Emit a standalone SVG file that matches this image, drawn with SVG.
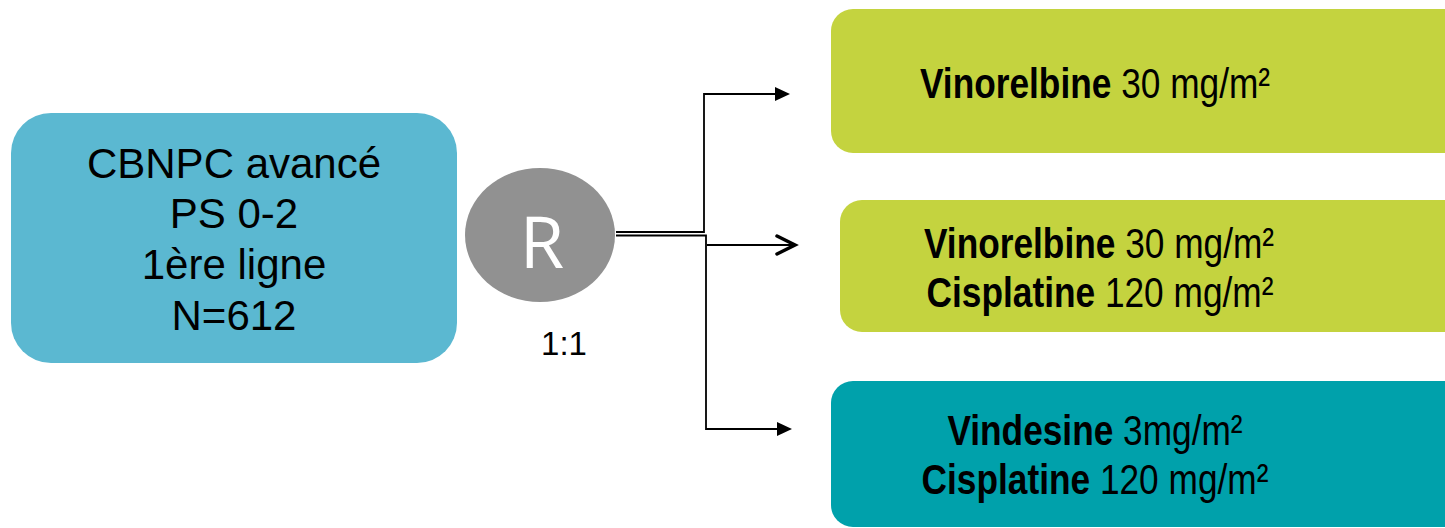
<svg xmlns="http://www.w3.org/2000/svg" width="1445" height="528" viewBox="0 0 1445 528">
<style>
.t{font-family:"Liberation Sans",Arial,sans-serif;font-size:42px;fill:#000}
.b{font-weight:bold}
.ln{fill:none;stroke:#000}
</style>
<rect width="1445" height="528" fill="#fff"/>
<g id="population">
<rect x="11" y="113" width="446" height="250" rx="40" fill="#5BB8D1"/>
<text class="t" text-anchor="middle" x="234" y="178">CBNPC avancé</text>
<text class="t" text-anchor="middle" x="234" y="228">PS 0-2</text>
<text class="t" text-anchor="middle" x="234" y="279">1ère ligne</text>
<text class="t" text-anchor="middle" x="234" y="330">N=612</text>
</g>
<g id="randomisation">
<ellipse cx="540" cy="235" rx="75" ry="67" fill="#919191"/>
<text x="542" y="268" text-anchor="middle" font-family="'Open Sans',sans-serif" font-size="72" fill="#fff">R</text>
<text x="564" y="355" text-anchor="middle" font-family="'Liberation Sans',Arial,sans-serif" font-size="33" fill="#000">1:1</text>
</g>
<g id="connectors">
<path class="ln" d="M616,232 H704 V94 H775" stroke-width="1.8"/>
<path d="M775,87 L790,94 L775,101 Z" fill="#000"/>
<path class="ln" d="M616,235.5 H706 V429 H777" stroke-width="1.8"/>
<path d="M777,422 L792,429 L777,436 Z" fill="#000"/>
<path class="ln" d="M707,245 H795" stroke-width="2"/>
<path class="ln" d="M777,236 L795,245 L777,254" stroke-width="3.5" stroke-linecap="round"/>
</g>
<g id="arm1">
<rect x="831" y="9" width="640" height="144" rx="22" fill="#C4D33F"/>
<text class="t" text-anchor="middle" transform="translate(1095,98) scale(0.84,1)"><tspan class="b">Vinorelbine</tspan> 30 mg/m²</text>
</g>
<g id="arm2">
<rect x="840" y="200" width="640" height="132" rx="22" fill="#C4D33F"/>
<text class="t" text-anchor="middle" transform="translate(1099,258) scale(0.84,1)"><tspan class="b">Vinorelbine</tspan> 30 mg/m²</text>
<text class="t" text-anchor="middle" transform="translate(1100,307) scale(0.84,1)"><tspan class="b">Cisplatine</tspan> 120 mg/m²</text>
</g>
<g id="arm3">
<rect x="831" y="381" width="640" height="146" rx="22" fill="#00A1AB"/>
<text class="t" text-anchor="middle" transform="translate(1095,445) scale(0.84,1)"><tspan class="b">Vindesine</tspan> 3mg/m²</text>
<text class="t" text-anchor="middle" transform="translate(1095,494) scale(0.84,1)"><tspan class="b">Cisplatine</tspan> 120 mg/m²</text>
</g>
</svg>
